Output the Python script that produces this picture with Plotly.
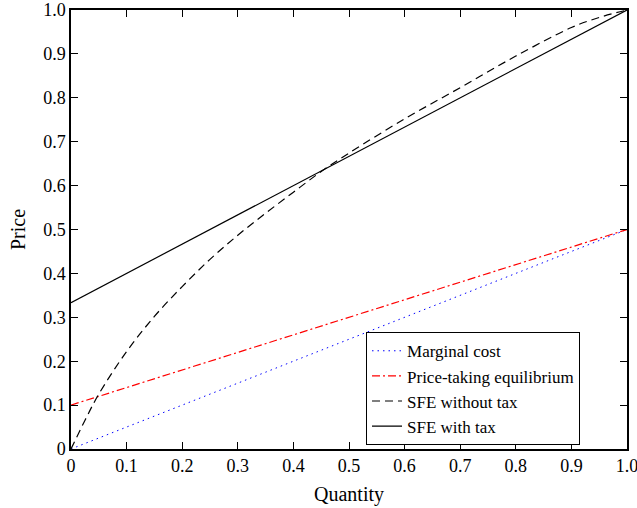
import plotly.graph_objects as go

quantity = [0.0, 1.0]
marginal_cost = [0.0, 0.5]
price_taking = [0.1, 0.5]
sfe_tax = [1/3, 1.0]

sfe_q = [0.0, 0.025, 0.05, 0.1, 0.15, 0.2, 0.25, 0.3, 0.35, 0.4, 0.45, 0.5,
         0.6, 0.7, 0.8, 0.9, 0.95, 1.0]
sfe_no_tax = [0.0, 0.065, 0.125, 0.222, 0.302, 0.37, 0.432, 0.487, 0.537, 0.585,
              0.632, 0.674, 0.752, 0.823, 0.895, 0.96, 0.983, 1.0]

tick_vals = [0, 0.1, 0.2, 0.3, 0.4, 0.5, 0.6, 0.7, 0.8, 0.9, 1.0]
tick_text = ["0", "0.1", "0.2", "0.3", "0.4", "0.5", "0.6", "0.7", "0.8", "0.9", "1.0"]

fig = go.Figure()
fig.add_trace(go.Scatter(x=quantity, y=marginal_cost, mode="lines", name="Marginal cost",
                         line=dict(color="blue", width=1, dash="1.5px,4px")))
fig.add_trace(go.Scatter(x=quantity, y=price_taking, mode="lines", name="Price-taking equilibrium",
                         line=dict(color="red", width=1.2, dash="8px,3px,2px,3px")))
fig.add_trace(go.Scatter(x=sfe_q, y=sfe_no_tax, mode="lines", name="SFE without tax",
                         line=dict(color="black", width=1.2, dash="8px,5px", shape="spline")))
fig.add_trace(go.Scatter(x=quantity, y=sfe_tax, mode="lines", name="SFE with tax",
                         line=dict(color="black", width=1.2)))

axis_common = dict(range=[0, 1], tickvals=tick_vals, ticktext=tick_text,
                   ticks="inside", ticklen=7, tickwidth=1, tickcolor="black",
                   showline=True, linecolor="black", linewidth=1.5, mirror="ticks",
                   showgrid=False, zeroline=False, automargin=False,
                   ticklabeloverflow="allow",
                   tickfont=dict(family="Liberation Serif", size=18, color="black"))

fig.update_layout(
    width=637, height=508,
    margin=dict(l=71, r=10, t=10, b=59, autoexpand=False),
    paper_bgcolor="white", plot_bgcolor="white",
    font=dict(family="Liberation Serif", size=18, color="black"),
    xaxis=dict(title=dict(text="Quantity", font=dict(size=20), standoff=12), **axis_common),
    yaxis=dict(title=dict(text="Price", font=dict(size=20), standoff=12), **axis_common),
    legend=dict(x=0.5306, y=0.266, xanchor="left", yanchor="top",
                bordercolor="black", borderwidth=1, bgcolor="white",
                font=dict(family="Liberation Serif", size=17),
                tracegroupgap=0, itemwidth=30),
    showlegend=True,
)

fig.write_html("out.html", config={"displayModeBar": False},
               post_script="document.body.style.margin='0';document.body.style.overflow='hidden';")
